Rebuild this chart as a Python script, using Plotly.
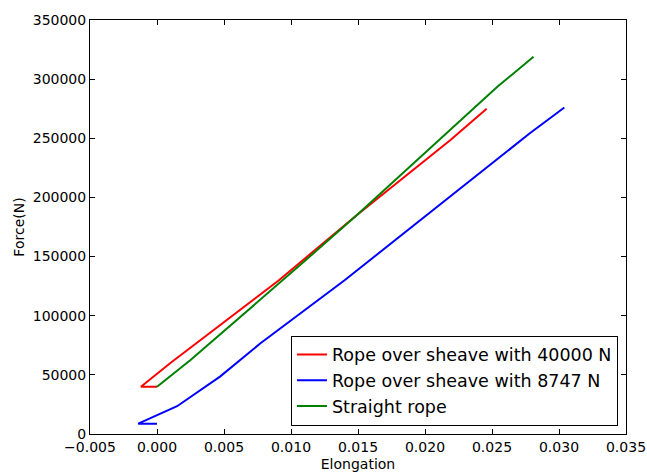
import plotly.graph_objects as go

# Data
red_x = [0.0, -0.0012, 0.0010, 0.0091, 0.0149, 0.0219, 0.0246]
red_y = [40000, 40000, 60000, 130000, 185000, 248500, 275000]

blue_x = [0.0, -0.0014, 0.0015, 0.0047, 0.0077, 0.0140, 0.0278, 0.0304]
blue_y = [8747, 8747, 23500, 48500, 76500, 130000, 254000, 276000]

green_x = [0.0, 0.0025, 0.0107, 0.0149, 0.0254, 0.0281]
green_y = [40000, 62500, 143000, 185000, 293500, 319000]

series_names = ["Rope over sheave with 40000 N",
                "Rope over sheave with 8747 N",
                "Straight rope"]

x_tickvals = [-0.005, 0.0, 0.005, 0.010, 0.015, 0.020, 0.025, 0.030, 0.035]
x_ticktext = ["\u22120.005", "0.000", "0.005", "0.010", "0.015", "0.020",
              "0.025", "0.030", "0.035"]
y_tickvals = [0, 50000, 100000, 150000, 200000, 250000, 300000, 350000]
y_ticktext = ["0", "50000", "100000", "150000", "200000", "250000",
              "300000", "350000"]

FONT = "DejaVu Sans"

fig = go.Figure()
for xs, ys, name, color in [(red_x, red_y, series_names[0], "#FF0000"),
                            (blue_x, blue_y, series_names[1], "#0000FF"),
                            (green_x, green_y, series_names[2], "#008000")]:
    fig.add_trace(go.Scatter(x=xs, y=ys, mode="lines", name=name,
                             line=dict(color=color, width=2)))

axis_common = dict(
    showgrid=False, zeroline=False, showline=True, linecolor="black",
    linewidth=1, mirror="allticks", ticks="inside", ticklen=5,
    tickcolor="black", tickwidth=1, automargin=False,
    tickfont=dict(family=FONT, size=14, color="black"),
)

fig.update_layout(
    width=647, height=472,
    margin=dict(l=90, r=21, t=20, b=38, autoexpand=False),
    paper_bgcolor="white", plot_bgcolor="white",
    font=dict(family=FONT, color="black"),
    showlegend=True,
    legend=dict(
        x=0.985, y=0.02, xanchor="right", yanchor="bottom",
        bgcolor="white", bordercolor="black", borderwidth=1,
        font=dict(family=FONT, size=17.5, color="black"),
        itemwidth=30, tracegroupgap=0,
    ),
    xaxis=dict(
        range=[-0.005, 0.035], tickvals=x_tickvals, ticktext=x_ticktext,
        title=dict(text="Elongation", font=dict(family=FONT, size=14),
                   standoff=7),
        **axis_common,
    ),
    yaxis=dict(
        range=[0, 350000], tickvals=y_tickvals, ticktext=y_ticktext,
        title=dict(text="Force(N)", font=dict(family=FONT, size=14),
                   standoff=4),
        **axis_common,
    ),
)

# remove the browser's default 8px body margin so the figure fills the window
fig.write_html(
    "out.html",
    config={"displayModeBar": False},
    post_script="document.body.style.margin='0';"
                "document.body.style.overflow='hidden';",
)
